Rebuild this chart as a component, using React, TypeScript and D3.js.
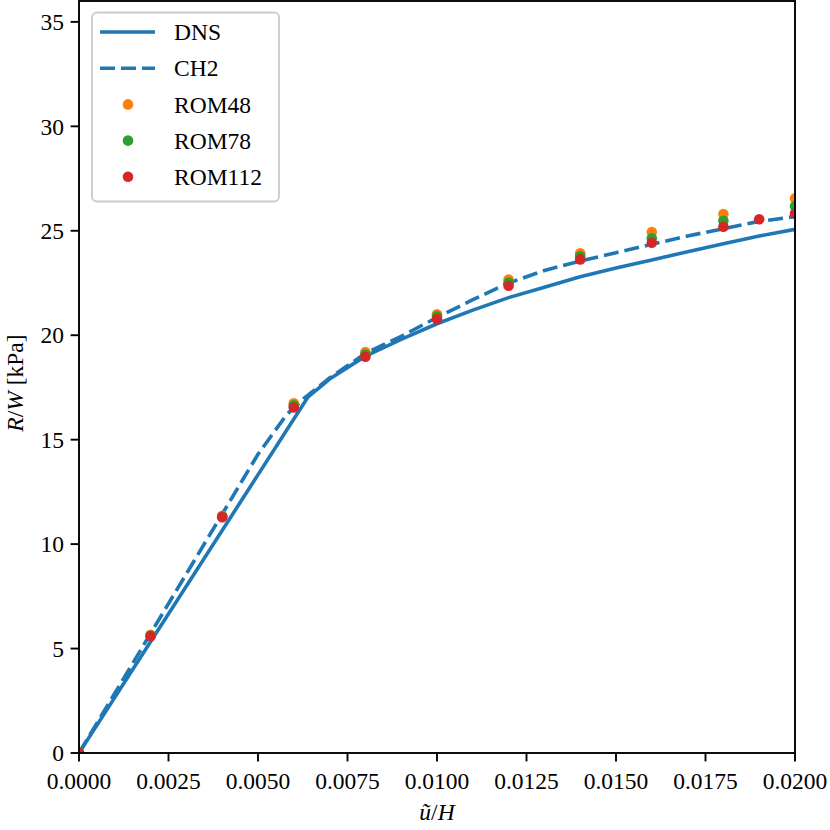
import * as d3 from "d3";

// DNS curve (solid)
const dnsX = [0, 0.0064, 0.007, 0.008, 0.009, 0.010, 0.011, 0.012, 0.013, 0.014, 0.015, 0.016, 0.017, 0.018, 0.019, 0.020];
const dnsY = [0, 17.05, 17.9, 19.0, 19.8, 20.55, 21.2, 21.8, 22.3, 22.8, 23.22, 23.6, 24.0, 24.38, 24.75, 25.07];

// CH2 curve (dashed)
const ch2X = [0, 0.001, 0.002, 0.003, 0.004, 0.005, 0.0058, 0.0063, 0.007, 0.008, 0.009, 0.010, 0.011, 0.012, 0.013, 0.014, 0.015, 0.016, 0.017, 0.018, 0.019, 0.020];
const ch2Y = [0, 2.86, 5.72, 8.58, 11.44, 14.3, 16.2, 17.0, 17.95, 19.13, 19.95, 20.85, 21.7, 22.5, 23.1, 23.55, 23.95, 24.35, 24.75, 25.1, 25.45, 25.68];

// ROM samples
const romX = [0, 0.002, 0.004, 0.006, 0.008, 0.010, 0.012, 0.014, 0.016, 0.018, 0.020];
const rom48 = [0, 5.66, 11.36, 16.74, 19.2, 21.0, 22.67, 23.92, 24.94, 25.8, 26.55];
const rom78 = [0, 5.62, 11.32, 16.64, 19.08, 20.9, 22.52, 23.78, 24.64, 25.48, 26.18];
const rom112X = [0, 0.002, 0.004, 0.006, 0.008, 0.010, 0.012, 0.014, 0.016, 0.018, 0.019, 0.020];
const rom112 = [0, 5.59, 11.29, 16.54, 18.97, 20.77, 22.37, 23.63, 24.43, 25.19, 25.55, 25.83];

const xTicks = [0, 0.0025, 0.005, 0.0075, 0.01, 0.0125, 0.015, 0.0175, 0.02];
const yTicks = [0, 5, 10, 15, 20, 25, 30, 35];

const C_BLUE = "#1f77b4";
const C_ORANGE = "#ff7f0e";
const C_GREEN = "#2ca02c";
const C_RED = "#d62728";

const FONT = "'Liberation Serif', 'Times New Roman', serif";

export default function App() {
  const width = 830;
  const height = 830;
  const left = 79;
  const right = 795;
  const top = 1;
  const bottom = 753;

  const x = d3.scaleLinear().domain([0, 0.02]).range([left, right]);
  const y = d3.scaleLinear().domain([0, 36]).range([bottom, top]);

  const line = d3.line<[number, number]>()
    .x(d => x(d[0]))
    .y(d => y(d[1]));

  const dns = dnsX.map((v, i) => [v, dnsY[i]] as [number, number]);
  const ch2 = ch2X.map((v, i) => [v, ch2Y[i]] as [number, number]);

  const r = 5.3;
  const fs = 23.5;

  const legendItems = [
    { label: "DNS", kind: "solid", color: C_BLUE },
    { label: "CH2", kind: "dash", color: C_BLUE },
    { label: "ROM48", kind: "dot", color: C_ORANGE },
    { label: "ROM78", kind: "dot", color: C_GREEN },
    { label: "ROM112", kind: "dot", color: C_RED },
  ];

  return (
    <div style={{ position: "absolute", left: 0, top: 0 }}>
      <svg width={width} height={height} fontFamily={FONT} style={{ display: "block" }}>
        <rect width={width} height={height} fill="white" />
        <defs>
          <clipPath id="plot">
            <rect x={left} y={top} width={right - left} height={bottom - top} />
          </clipPath>
        </defs>

        <g clipPath="url(#plot)">
          <path d={line(dns) || ""} fill="none" stroke={C_BLUE} strokeWidth={3.6} strokeLinejoin="round" />
          <path d={line(ch2) || ""} fill="none" stroke={C_BLUE} strokeWidth={3.6} strokeDasharray="15,6" />
          {romX.map((v, i) => (
            <circle key={"o" + i} cx={x(v)} cy={y(rom48[i])} r={r} fill={C_ORANGE} />
          ))}
          {romX.map((v, i) => (
            <circle key={"g" + i} cx={x(v)} cy={y(rom78[i])} r={r} fill={C_GREEN} />
          ))}
          {rom112X.map((v, i) => (
            <circle key={"r" + i} cx={x(v)} cy={y(rom112[i])} r={r} fill={C_RED} />
          ))}
        </g>

        {/* frame */}
        <rect x={left} y={top} width={right - left} height={bottom - top} fill="none" stroke="black" strokeWidth={1.9} />

        {/* x ticks */}
        {xTicks.map(t => (
          <g key={"x" + t} transform={`translate(${x(t)},${bottom})`}>
            <line y2={8.4} stroke="black" strokeWidth={1.9} />
            <text y={36} textAnchor="middle" fontSize={fs}>{t.toFixed(4)}</text>
          </g>
        ))}

        {/* y ticks */}
        {yTicks.map(t => (
          <g key={"y" + t} transform={`translate(${left},${y(t)})`}>
            <line x2={-8.4} stroke="black" strokeWidth={1.9} />
            <text x={-15} dy="0.35em" textAnchor="end" fontSize={fs}>{t}</text>
          </g>
        ))}

        {/* axis labels */}
        <text x={(left + right) / 2} y={820} textAnchor="middle" fontSize={fs}>
          <tspan fontStyle="italic">{"u\u0303"}</tspan>
          <tspan>/</tspan>
          <tspan fontStyle="italic">H</tspan>
        </text>
        <text transform={`translate(23,383) rotate(-90)`} textAnchor="middle" fontSize={fs}>
          <tspan fontStyle="italic">R</tspan>
          <tspan>/</tspan>
          <tspan fontStyle="italic">W</tspan>
          <tspan>{"\u00a0[kPa]"}</tspan>
        </text>

        {/* legend */}
        <g>
          <rect x={92} y={12.5} width={187} height={189} rx={5} fill="white" fillOpacity={0.8} stroke="#cccccc" strokeWidth={1.9} />
          {legendItems.map((d, i) => {
            const cy = 32 + i * 36.2;
            return (
              <g key={d.label}>
                {d.kind === "solid" && (
                  <line x1={100} x2={155} y1={cy} y2={cy} stroke={d.color} strokeWidth={3.6} />
                )}
                {d.kind === "dash" && (
                  <line x1={100} x2={155} y1={cy} y2={cy} stroke={d.color} strokeWidth={3.6} strokeDasharray="15,6" />
                )}
                {d.kind === "dot" && <circle cx={128} cy={cy} r={r} fill={d.color} />}
                <text x={174} y={cy} dy="0.35em" fontSize={fs}>{d.label}</text>
              </g>
            );
          })}
        </g>
      </svg>
    </div>
  );
}
